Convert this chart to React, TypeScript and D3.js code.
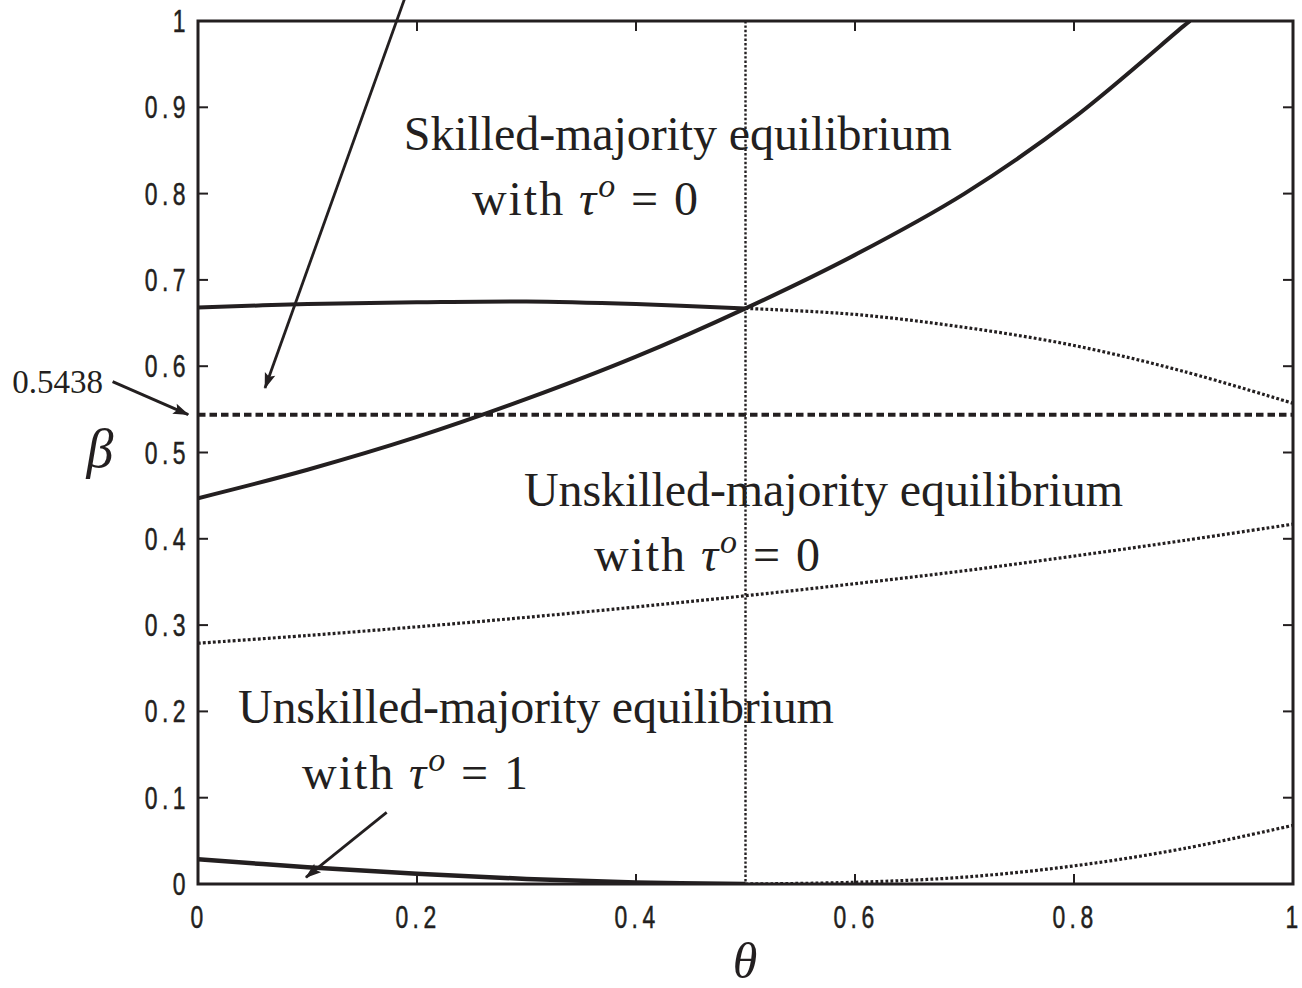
import React from "react";
import * as d3 from "d3";

// axis ticks
const thetaTicks = [0, 0.2, 0.4, 0.6, 0.8, 1];
const betaTicks = [0, 0.1, 0.2, 0.3, 0.4, 0.5, 0.6, 0.7, 0.8, 0.9, 1];

// rising boundary (solid)
const risingTheta = [0, 0.1, 0.2, 0.3, 0.4, 0.5, 0.6, 0.7, 0.8, 0.9, 0.906];
const risingBeta = [0.447, 0.48, 0.518, 0.562, 0.611, 0.667, 0.729, 0.8, 0.888, 0.994, 1.0];

// upper flat boundary, solid up to theta = 0.5, dotted after
const upperSolidTheta = [0, 0.1, 0.2, 0.3, 0.4, 0.5];
const upperSolidBeta = [0.668, 0.672, 0.674, 0.675, 0.672, 0.667];
const upperDottedTheta = [0.5, 0.6, 0.7, 0.8, 0.9, 1];
const upperDottedBeta = [0.667, 0.66, 0.645, 0.624, 0.594, 0.557];

// middle dotted curve
const midTheta = [0, 0.1, 0.2, 0.3, 0.4, 0.5, 0.6, 0.7, 0.8, 0.9, 1];
const midBeta = [0.279, 0.288, 0.298, 0.309, 0.321, 0.334, 0.348, 0.363, 0.38, 0.398, 0.417];

// lower boundary, solid then dotted
const lowerSolidTheta = [0, 0.1, 0.2, 0.3, 0.4, 0.5];
const lowerSolidBeta = [0.0286, 0.0195, 0.0118, 0.0058, 0.0018, 0];
const lowerDottedTheta = [0.5, 0.6, 0.7, 0.8, 0.9, 1];
const lowerDottedBeta = [0, 0.002, 0.008, 0.021, 0.041, 0.068];

const threshold = 0.5438;
const thetaStar = 0.5;

const zip = (xs: number[], ys: number[]) => xs.map((v, i) => [v, ys[i]] as [number, number]);

const ink = "#231f20";
const serif = "'Liberation Serif', 'Times New Roman', serif";
const gothic = "'Liberation Sans', Arial, sans-serif";

const tickText = (v: number) => (v === 0 ? "0" : v === 1 ? "1" : v.toFixed(1));

const WithTau = ({ x, y, val, width }: { x: number; y: number; val: string; width: number }) => (
  <text x={x} y={y} fontFamily={serif} fontSize={48} fill={ink} textLength={width} lengthAdjust="spacing">
    with{" "}
    <tspan fontStyle="italic">τ</tspan>
    <tspan fontStyle="italic" fontSize={34} dy={-18}>o</tspan>
    <tspan dy={18}>{"  =  "}</tspan>
    <tspan>{val}</tspan>
  </text>
);

// tick labels: narrow gothic-looking digits with a wide gap after the point
const TickLabel = ({ x, y, anchor, label }: { x: number; y: number; anchor: string; label: string }) => (
  <g transform={`translate(${x},${y}) scale(0.74,1)`}>
    <text
      x={0}
      y={0}
      textAnchor={anchor}
      fontFamily={gothic}
      fontSize={31}
      letterSpacing={6}
      fill={ink}
      stroke={ink}
      strokeWidth={0.5}
    >
      {label}
    </text>
  </g>
);

export default function App() {
  const W = 1302;
  const H = 988;
  const x = d3.scaleLinear().domain([0, 1]).range([198, 1293]);
  const y = d3.scaleLinear().domain([0, 1]).range([884, 21]);

  const line = d3
    .line<[number, number]>()
    .x((d) => x(d[0]))
    .y((d) => y(d[1]))
    .curve(d3.curveCatmullRom.alpha(0.5));

  const arrows = [
    { from: [0.189, 1.027], to: [0.0612, 0.5747], w: 2.8 },
    { from: [-0.078, 0.582], to: [-0.0089, threshold], w: 3 },
    { from: [0.1723, 0.083], to: [0.0986, 0.0077], w: 2.8 },
  ];

  const dotted = { stroke: ink, strokeWidth: 3.2, strokeDasharray: "2.8 2.2" };

  return (
    <svg width={W} height={H} style={{ position: "absolute", left: 0, top: 0, background: "#fff" }}>
      <defs>
        <marker
          id="head"
          viewBox="-17 -7 19 14"
          refX={0}
          refY={0}
          markerWidth={19}
          markerHeight={14}
          orient="auto"
          markerUnits="userSpaceOnUse"
        >
          <path d="M1,0 L-15,-5.5 L-12,0 L-15,5.5 Z" fill={ink} />
        </marker>
        <clipPath id="plot">
          <rect x={x(0)} y={y(1)} width={x(1) - x(0)} height={y(0) - y(1)} />
        </clipPath>
      </defs>

      {/* ticks */}
      {thetaTicks.map((t) => (
        <g key={"xt" + t}>
          <line x1={x(t)} x2={x(t)} y1={y(0)} y2={y(0) - 10} stroke={ink} strokeWidth={2} />
          <line x1={x(t)} x2={x(t)} y1={y(1)} y2={y(1) + 10} stroke={ink} strokeWidth={2} />
          <TickLabel x={x(t) + 1} y={y(0) + 44} anchor="middle" label={tickText(t)} />
        </g>
      ))}
      {betaTicks.map((b) => (
        <g key={"yt" + b}>
          <line x1={x(0)} x2={x(0) + 10} y1={y(b)} y2={y(b)} stroke={ink} strokeWidth={2} />
          <line x1={x(1)} x2={x(1) - 10} y1={y(b)} y2={y(b)} stroke={ink} strokeWidth={2} />
          <TickLabel x={190} y={y(b) + 11} anchor="end" label={tickText(b)} />
        </g>
      ))}

      <g clipPath="url(#plot)" fill="none">
        {/* vertical dotted line at theta = 0.5 */}
        <line
          x1={x(thetaStar)}
          x2={x(thetaStar)}
          y1={y(1)}
          y2={y(0)}
          stroke={ink}
          strokeWidth={2.4}
          strokeDasharray="2.4 2"
        />
        {/* threshold */}
        <line
          x1={x(0)}
          x2={x(1)}
          y1={y(threshold)}
          y2={y(threshold)}
          stroke={ink}
          strokeWidth={4}
          strokeDasharray="7.5 4"
        />
        <path d={line(zip(upperDottedTheta, upperDottedBeta)) || ""} {...dotted} />
        <path d={line(zip(midTheta, midBeta)) || ""} {...dotted} />
        <path d={line(zip(lowerDottedTheta, lowerDottedBeta)) || ""} {...dotted} />
        <path d={line(zip(upperSolidTheta, upperSolidBeta)) || ""} stroke={ink} strokeWidth={4} />
        <path d={line(zip(risingTheta, risingBeta)) || ""} stroke={ink} strokeWidth={4} />
        <path d={line(zip(lowerSolidTheta, lowerSolidBeta)) || ""} stroke={ink} strokeWidth={4.5} />
      </g>

      {/* frame */}
      <rect x={x(0)} y={y(1)} width={x(1) - x(0)} height={y(0) - y(1)} fill="none" stroke={ink} strokeWidth={3} />

      {/* arrows */}
      {arrows.map((a, i) => (
        <line
          key={"ar" + i}
          x1={x(a.from[0])}
          y1={y(a.from[1])}
          x2={x(a.to[0])}
          y2={y(a.to[1])}
          stroke={ink}
          strokeWidth={a.w}
          markerEnd="url(#head)"
        />
      ))}

      {/* region labels */}
      <text x={x(0.188)} y={y(0.8505)} fontFamily={serif} fontSize={48} fill={ink} textLength={548} lengthAdjust="spacing">
        Skilled-majority equilibrium
      </text>
      <WithTau x={x(0.2502)} y={y(0.7752)} val="0" width={226} />
      <text x={x(0.2977)} y={y(0.438)} fontFamily={serif} fontSize={48} fill={ink} textLength={599} lengthAdjust="spacing">
        Unskilled-majority equilibrium
      </text>
      <WithTau x={x(0.3616)} y={y(0.3627)} val="0" width={226} />
      <text x={x(0.0365)} y={y(0.1866)} fontFamily={serif} fontSize={48} fill={ink} textLength={596} lengthAdjust="spacing">
        Unskilled-majority equilibrium
      </text>
      <WithTau x={x(0.095)} y={y(0.11)} val="1" width={226} />

      {/* threshold value */}
      <text x={x(-0.0868)} y={y(0.569)} textAnchor="end" fontFamily={serif} fontSize={33} fill={ink}>
        0.5438
      </text>

      {/* axis titles */}
      <text x={x(-0.0895)} y={y(0.4832)} textAnchor="middle" fontFamily={serif} fontStyle="italic" fontSize={54} fill={ink}>
        β
      </text>
      <text x={x(0.4995)} y={y(-0.109)} textAnchor="middle" fontFamily={serif} fontStyle="italic" fontSize={50} fill={ink}>
        θ
      </text>
    </svg>
  );
}
